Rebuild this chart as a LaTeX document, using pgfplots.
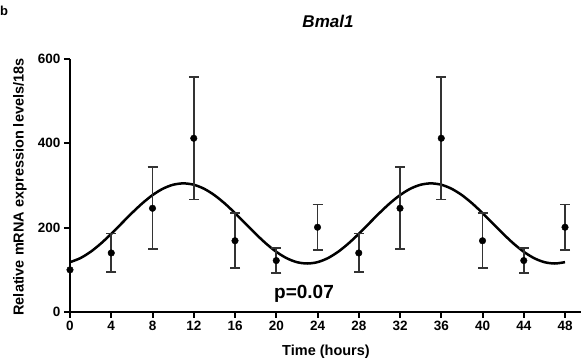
\documentclass[border=0pt]{standalone}
\usepackage{pgfplots}
\pgfplotsset{compat=1.18}
\usepackage{pgfplotstable}
\usepackage{fontspec}
\setmainfont{Liberation Sans}
\pgfplotstableread{
t v e
4 140 46
8 246 97
12 412 145
16 169 65
20 122 30
24 201 54
28 140 46
32 246 97
36 412 145
40 169 65
44 122 30
48 201 54
}\datatable
\begin{document}
\begin{tikzpicture}[x=1pt,y=1pt]
\useasboundingbox (0,0) rectangle (584,364);
\begin{axis}[
  at={(70pt,52pt)}, anchor=south west,
  scale only axis, width=510.5pt, height=253pt,
  xmin=0, xmax=49.5, ymin=0, ymax=600,
  axis x line*=bottom, axis y line*=left,
  axis line style={line width=2.2pt, black},
  xtick={0,4,...,48}, ytick={0,200,400,600},
  tick align=outside, major tick length=6pt,
  tick style={line width=2pt, black},
  ticklabel style={font=\fontsize{13.5}{13.5}\selectfont\bfseries},
  /pgf/number format/assume math mode=true,
  clip=false,
]
\addplot[black, line width=2.5pt, smooth, no marks] coordinates {
(0,118.2) (1,127.7) (2,142.8) (3,162.5) (4,185.4) (5,210) (6,234.6) (7,257.5)
(8,277.2) (9,292.3) (10,301.8) (11,305) (12,301.8) (13,292.3) (14,277.2)
(15,257.5) (16,234.6) (17,210) (18,185.4) (19,162.5) (20,142.8) (21,127.7)
(22,118.2) (23,115) (24,118.2) (25,127.7) (26,142.8) (27,162.5) (28,185.4)
(29,210) (30,234.6) (31,257.5) (32,277.2) (33,292.3) (34,301.8) (35,305)
(36,301.8) (37,292.3) (38,277.2) (39,257.5) (40,234.6) (41,210) (42,185.4)
(43,162.5) (44,142.8) (45,127.7) (46,118.2) (47,115) (48,118.2)
};
\addplot[black, only marks, mark=*, mark size=3.3pt,
  error bars/.cd, y dir=both, y explicit,
  error bar style={line width=1.8pt, black!80},
  error mark options={rotate=90, mark size=5pt, line width=1.8pt, black!80}]
  table[x=t, y=v, y error=e] {\datatable};
\addplot[black, only marks, mark=*, mark size=3.3pt] coordinates {(0,100)};
\end{axis}
\node[font=\fontsize{14.5}{14.5}\selectfont\bfseries, rotate=90] at (20,177) {Relative mRNA expression levels/18s};
\node[font=\fontsize{14.5}{14.5}\selectfont\bfseries] at (326,12) {Time (hours)};
\node[font=\fontsize{17}{17}\selectfont\bfseries\itshape] at (328,343) {Bmal1};
\node[font=\fontsize{19}{19}\selectfont\bfseries] at (304,70) {p=0.07};
\node[font=\fontsize{13}{13}\selectfont\bfseries, anchor=north west, inner sep=0pt] at (0,358) {b};
\end{tikzpicture}
\end{document}
